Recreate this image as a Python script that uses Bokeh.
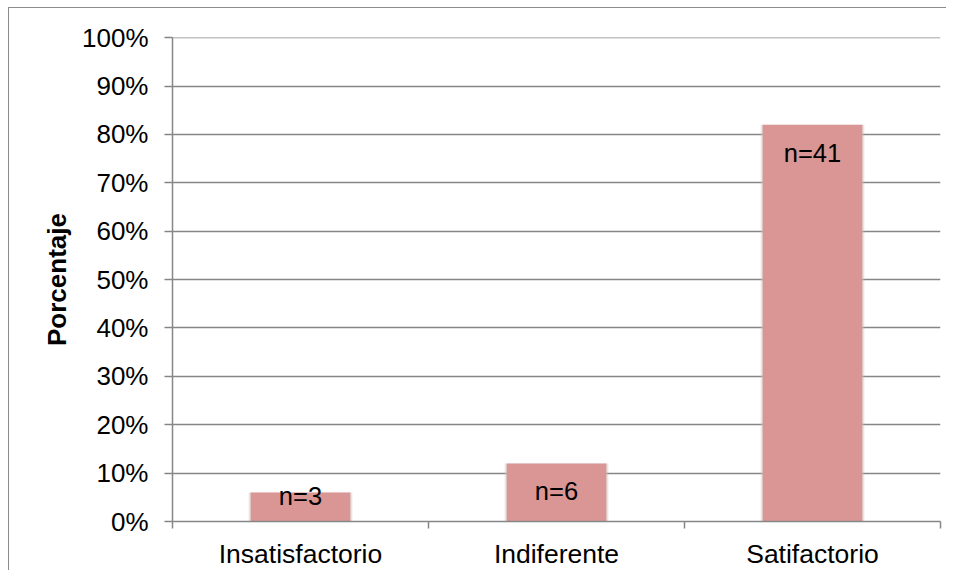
from bokeh.plotting import figure
from bokeh.models import Range1d, FixedTicker, ColumnDataSource
from bokeh.core.properties import value
from bokeh.embed import file_html
from bokeh.resources import INLINE

categories = ["Insatisfactorio", "Indiferente", "Satifactorio"]
percentages = [6, 12, 82]
counts = [3, 6, 41]
y_ticks = [0, 10, 20, 30, 40, 50, 60, 70, 80, 90, 100]
y_tick_labels = ["0%", "10%", "20%", "30%", "40%", "50%", "60%", "70%", "80%", "90%", "100%"]
y_axis_title = "Porcentaje"

FONT = "Liberation Sans"
GRID = "#868686"
BAR = "#D99694"

W, H = 938, 563
ML, MR, MT, MB = 163, 7, 29, 50
frame_h = H - MT - MB

x_pos = [i + 0.5 for i in range(len(categories))]
labels = ["n=%d" % c for c in counts]
px_per_unit = frame_h / 100.0
offsets = []
for v in percentages:
    h = v * px_per_unit
    offsets.append(min(28, max(3, h - 26)))

src = ColumnDataSource(dict(x=x_pos, top=percentages, label=labels, off=offsets))

p = figure(width=W, height=H, output_backend="svg", toolbar_location=None,
           x_range=Range1d(0, len(categories)), y_range=Range1d(0, 100.05),
           min_border_left=ML, min_border_right=MR, min_border_top=MT, min_border_bottom=MB)
p.styles = {"margin-left": "8px", "margin-top": "7px",
            "border-left": "1px solid #8c8c8c", "border-top": "1px solid #8c8c8c"}
p.outline_line_color = None
p.background_fill_color = "white"
p.border_fill_color = "white"

# shadow
p.vbar(x="x", top="top", width=0.405, bottom=0, source=src, fill_color="#c8c8c8",
       fill_alpha=0.45, line_color=None)
p.vbar(x="x", top="top", width=0.39, bottom=0, source=src, fill_color=BAR, line_color=None)
p.text(x="x", y="top", text="label", source=src, y_offset="off",
       text_align="center", text_baseline="middle",
       text_font=value(FONT), text_font_size="25.5px", text_color="black")

# x axis
p.xaxis.ticker = FixedTicker(ticks=x_pos, minor_ticks=list(range(len(categories) + 1)))
p.xaxis.major_label_overrides = {x: c for x, c in zip(x_pos, categories)}
p.xaxis.major_tick_out = 0
p.xaxis.major_tick_in = 0
p.xaxis.minor_tick_out = 7
p.xaxis.minor_tick_in = 0
p.xaxis.minor_tick_line_color = GRID
p.xaxis.minor_tick_line_width = 1.5
p.xaxis.axis_line_color = GRID
p.xaxis.axis_line_width = 1.5
p.xaxis.major_label_text_font = FONT
p.xaxis.major_label_text_font_size = "26.5px"
p.xaxis.major_label_text_color = "black"
p.xaxis.major_label_standoff = 10

# y axis
p.yaxis.ticker = FixedTicker(ticks=y_ticks)
p.yaxis.major_label_overrides = {t: l for t, l in zip(y_ticks, y_tick_labels)}
p.yaxis.major_tick_out = 8
p.yaxis.major_tick_in = 0
p.yaxis.minor_tick_line_color = None
p.yaxis.major_tick_line_color = GRID
p.yaxis.major_tick_line_width = 1.5
p.yaxis.axis_line_color = GRID
p.yaxis.axis_line_width = 1.5
p.yaxis.major_label_text_font = FONT
p.yaxis.major_label_text_font_size = "26px"
p.yaxis.major_label_text_color = "black"
p.yaxis.major_label_standoff = 16
p.yaxis.axis_label = y_axis_title
p.yaxis.axis_label_text_font = FONT
p.yaxis.axis_label_text_font_size = "26px"
p.yaxis.axis_label_text_font_style = "bold"
p.yaxis.axis_label_text_color = "black"
p.yaxis.axis_label_standoff = 7

p.xgrid.grid_line_color = None
p.ygrid.grid_line_color = GRID
p.ygrid.grid_line_width = 1.5

open("out.html", "w").write(file_html(p, INLINE))
